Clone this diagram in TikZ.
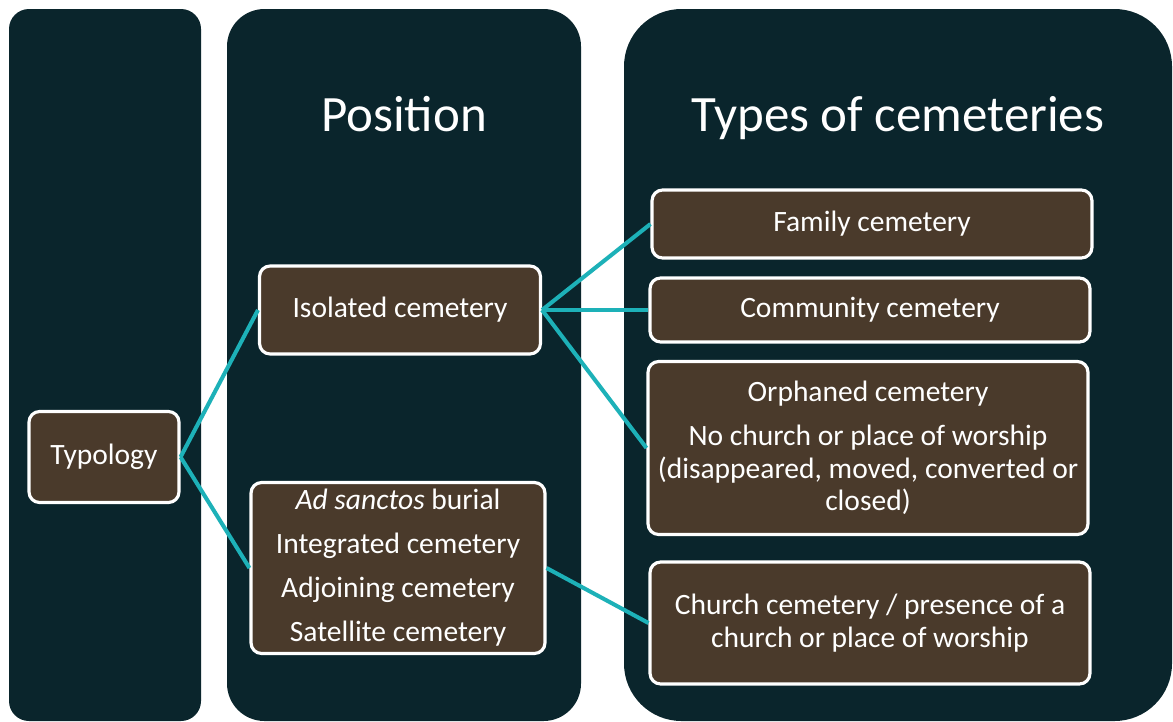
\documentclass[tikz,border=0pt]{standalone}
\usepackage{fontspec}
\setmainfont{Carlito}
\definecolor{panelbg}{HTML}{0A252C}
\definecolor{boxbrown}{HTML}{4A3A2B}
\definecolor{linkteal}{HTML}{1DB1B8}
\tikzset{
  panel/.style={fill=panelbg,draw=none},
  title/.style={text=white,font=\fontsize{29}{33}\selectfont,inner sep=0pt,anchor=base},
  catbox/.style={rectangle,rounded corners=6pt,fill=boxbrown,draw=white,line width=1.8pt,
    text=white,font=\fontsize{16.8}{18.5}\selectfont,align=center,inner sep=2pt},
  link/.style={draw=linkteal,line width=2.3pt}
}
\begin{document}
\begin{tikzpicture}[x=0.02cm,y=-0.02cm]

\useasboundingbox[fill=white] (0,0) rectangle (1173,721);

% columns
\fill[panel,rounded corners=0.4cm] (9,9) rectangle (201,721);
\fill[panel,rounded corners=0.75cm] (227,9) rectangle (581,721);
\fill[panel,rounded corners=1.15cm] (624,9) rectangle (1172,721);

\node (postitle)[title] at (404,131) {Position};
\node (typtitle)[title] at (898,131) {Types of cemeteries};

% boxes
\node (typ)[catbox,minimum width=3cm,minimum height=1.82cm] at (104,457) {Typology};
\node (iso)[catbox,minimum width=5.62cm,minimum height=1.76cm] at (400,310) {Isolated cemetery};
\node (adj)[catbox,minimum width=5.88cm,minimum height=3.42cm] at (398,568)
  {\textit{Ad sanctos} burial\\[6.5pt] Integrated cemetery\\[6.5pt] Adjoining cemetery\\[6.5pt] Satellite cemetery};

\node (fam)[catbox,minimum width=8.8cm,minimum height=1.36cm] at (872,224) {Family cemetery};
\node (com)[catbox,minimum width=8.8cm,minimum height=1.28cm] at (870,310) {Community cemetery};
\node (orph)[catbox,minimum width=8.8cm,minimum height=3.46cm] at (868,448)
  {Orphaned cemetery\\[6.5pt] No church or place of worship\\ (disappeared, moved, converted or\\ closed)};
\node (chur)[catbox,minimum width=8.8cm,minimum height=2.44cm] at (870,623)
  {Church cemetery / presence of a\\ church or place of worship};

% connectors
\draw[link] (typ.east)--(iso.west);
\draw[link] (typ.east)--(adj.west);
\draw[link] (iso.east)--(fam.west);
\draw[link] (iso.east)--(com.west);
\draw[link] (iso.east)--(orph.west);
\draw[link] (adj.east)--(chur.west);

\end{tikzpicture}
\end{document}
